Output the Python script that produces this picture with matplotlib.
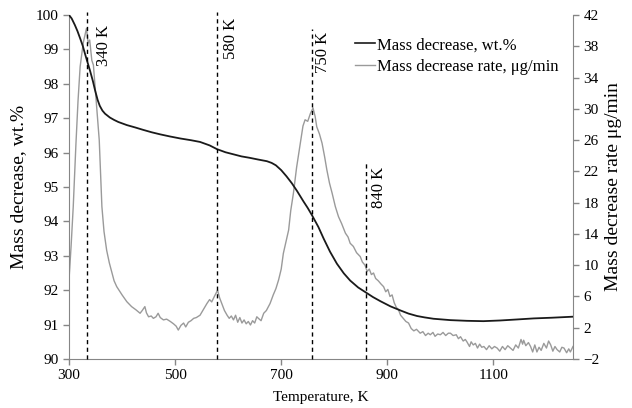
import matplotlib
matplotlib.use("Agg")
import matplotlib.pyplot as plt
from matplotlib.lines import Line2D

# ---------------- data ----------------
mass_T = [300, 305, 311, 316, 321, 326, 330, 335, 340, 345, 349, 354, 358, 363, 368,
          377, 385, 393, 409, 425, 440, 456, 472, 490, 510, 530, 547, 565, 579, 595,
          610, 625, 640, 656, 673, 682, 690, 700, 710, 720, 730, 742, 750, 758, 770,
          780, 792, 805, 818, 830, 845, 860, 873, 887, 906, 925, 940, 956, 970, 987,
          1019, 1050, 1081, 1113, 1145, 1176, 1210, 1250]
mass_pct = [100, 99.9, 99.71, 99.53, 99.32, 99.1, 98.88, 98.62, 98.36, 98.08, 97.82, 97.53,
            97.36, 97.22, 97.13, 97.02, 96.95, 96.89, 96.8, 96.73, 96.66, 96.59, 96.53,
            96.47, 96.41, 96.36, 96.31, 96.21, 96.1, 96.01, 95.95, 95.89, 95.85, 95.8,
            95.75, 95.7, 95.63, 95.49, 95.31, 95.11, 94.88, 94.58, 94.39, 94.18, 93.84,
            93.5, 93.12, 92.77, 92.49, 92.28, 92.08, 91.93, 91.8, 91.68, 91.53, 91.41,
            91.32, 91.25, 91.21, 91.17, 91.13, 91.11, 91.1, 91.12, 91.15, 91.18, 91.2, 91.23]

rate_T = [300, 304, 308, 313, 317, 321, 327, 333, 336, 339, 343, 346, 349, 352, 357,
          362, 366, 371, 376, 381, 385, 390, 400, 409, 418, 426, 434, 438, 443, 446,
          450, 455, 459, 464, 468, 472, 478, 484, 491, 497, 502, 506, 511, 516, 520,
          525, 530, 535, 540, 547, 553, 560, 565, 569, 574, 580, 584, 588, 593, 598,
          602, 606, 610, 614, 618, 622, 626, 630, 634, 638, 642, 646, 650, 654, 657,
          662, 667, 672, 679, 685, 690, 695, 700, 704, 709, 714, 718, 723, 729, 736,
          741, 745, 750, 752, 755, 760, 764, 767, 772, 777, 782, 786, 791, 796, 802,
          808, 814, 821, 826, 830, 836, 842, 849, 853, 858, 862, 866, 870, 874, 878,
          883, 888, 893, 897, 901, 905, 909, 913, 917, 921, 925, 930, 935, 940, 945,
          950, 955, 962, 967, 972, 977, 981, 986, 990, 995, 1000, 1005, 1010, 1015, 1019,
          1024, 1030, 1034, 1038, 1043, 1047, 1050, 1055, 1058, 1062, 1066, 1070, 1074, 1078, 1082,
          1087, 1092, 1097, 1102, 1107, 1112, 1117, 1122, 1127, 1132, 1137, 1142, 1147, 1152, 1155,
          1157, 1161, 1166, 1170, 1174, 1178, 1182, 1186, 1190, 1195, 1200, 1204, 1208, 1212, 1216,
          1220, 1225, 1229, 1233, 1238, 1242, 1245, 1250]
rate_ug = [8.1, 12.5, 17.5, 25.4, 31.0, 35.4, 38.5, 40.3, 38.4, 38.8, 36.2, 35.6, 33.0, 30.5, 26.0,
           17.5, 14.3, 11.9, 10.3, 9.0, 8.0, 7.25, 6.2, 5.33, 4.7, 4.3, 3.85, 4.2, 4.7, 3.9,
           3.4, 3.5, 3.2, 3.4, 3.85, 3.3, 3.0, 3.1, 2.8, 2.5, 2.2, 1.7, 2.3, 2.6, 2.1,
           2.7, 2.9, 3.2, 3.3, 3.6, 4.3, 5.1, 5.6, 5.3, 6.0, 6.8, 5.8, 5.1, 4.2, 3.6,
           3.2, 3.5, 3.0, 3.6, 2.7, 3.3, 2.6, 3.0, 2.5, 2.8, 2.35, 2.9, 2.6, 3.4, 3.2,
           2.9, 3.85, 4.2, 5.1, 6.2, 7.0, 8.1, 9.5, 11.5, 13.0, 14.5, 17.0, 19.2, 22.5, 25.6,
           27.8, 28.6, 28.4, 28.8, 29.4, 30.1, 29.0, 27.7, 26.8, 25.6, 23.8, 22.2, 20.5, 19.2, 17.5,
           16.2, 15.3, 14.1, 13.6, 12.8, 12.4, 11.6, 11.1, 10.4, 10.0, 9.2, 9.5, 8.8, 9.0, 8.3,
           8.0, 7.6, 7.25, 6.6, 6.9, 6.0, 6.2, 5.2, 4.6, 4.3, 3.6, 3.2, 2.8, 2.6, 1.9,
           1.6, 1.8, 1.3, 1.5, 1.0, 1.3, 1.1, 1.4, 0.9, 1.2, 1.1, 1.4, 1.0, 1.3, 1.3,
           1.0, 1.1, 0.6, 0.85, 0.3, 0.5, 0.2, -0.4, 0.2, -0.2, 0.0, -0.6, -0.1, -0.5, -0.4,
           -0.8, -0.3, -0.7, -0.4, -0.6, -1.0, -0.4, -0.8, -0.3, -0.6, -0.9, -0.2, -0.6, 0.5, -0.1,
           0.4, -0.3, 0.1, -0.4, -1.1, -0.2, -1.1, -0.5, -0.9, 0.0, -0.6, 0.3, -0.2, -1.0, -0.4,
           -0.8, -1.1, -0.5, -0.6, -1.2, -0.7, -1.1, -0.4]

marker_T = [333, 579, 758, 860]
marker_top = [100.1, 100.1, 99.58, 95.7]
marker_labels = ["340 K", "580 K", "750 K", "840 K"]
label_T = [366, 606, 778, 885]
label_top = [99.71, 99.91, 99.5, 95.58]

x_ticks = [300, 500, 700, 900, 1100]
left_ticks = list(range(90, 101))
right_ticks = list(range(-2, 43, 4))

legend_labels = ["Mass decrease, wt.%", "Mass decrease rate, \u03bcg/min"]

# ---------------- plot ----------------
plt.rcParams['font.family'] = ['Liberation Serif', 'DejaVu Serif']
W, H = 632, 408
fig = plt.figure(figsize=(W / 100, H / 100), dpi=100)
ax = fig.add_axes([69 / W, 1 - 359 / H, (573 - 69) / W, (359 - 15) / H])
ax2 = ax.twinx()

axis_col = '#868686'
black_col = '#1a1a1a'
gray_col = '#9a9a9a'

ax2.plot(rate_T, rate_ug, color=gray_col, lw=1.0)
ax.plot(mass_T, mass_pct, color=black_col, lw=1.3, zorder=5)
ax.set_zorder(ax2.get_zorder() + 1)
ax.patch.set_visible(False)

ax.set_xlim(300, 1250)
ax.set_ylim(90, 100)
ax2.set_ylim(-2, 42)
ax.set_xticks(x_ticks)
ax.set_yticks(left_ticks)
ax2.set_yticks(right_ticks)

ax.vlines(marker_T, 90, marker_top, colors='black', linestyles=(0, (3, 2.5)), lw=1.0,
          clip_on=False, zorder=6)
for t, y, s in zip(label_T, label_top, marker_labels):
    ax.text(t, y, s, rotation=90, ha='center', va='top', fontsize=12, color='black')

for a in (ax, ax2):
    for sp in a.spines.values():
        sp.set_color(axis_col)
    a.spines['top'].set_visible(False)
    a.tick_params(colors=axis_col, labelcolor='black', labelsize=11, length=4, width=1)
ax.spines['right'].set_visible(False)
ax2.spines['left'].set_visible(False)
ax2.spines['bottom'].set_visible(False)

ax.set_xlabel("Temperature, K", fontsize=11, labelpad=6)
ax.set_ylabel("Mass decrease, wt.%", fontsize=14, labelpad=6)
ax2.set_ylabel("Mass decrease rate \u03bcg/min", fontsize=14, labelpad=4)

handles = [Line2D([], [], color=black_col, lw=1.2), Line2D([], [], color=gray_col, lw=1.0)]
ax.legend(handles, legend_labels, loc='upper left', bbox_to_anchor=(347 / W, 1 - 29 / H),
          bbox_transform=fig.transFigure, frameon=False, fontsize=12, handlelength=1.2,
          handletextpad=0.1, labelspacing=0.35, borderpad=0)

fig.savefig("out.png", dpi=100)
